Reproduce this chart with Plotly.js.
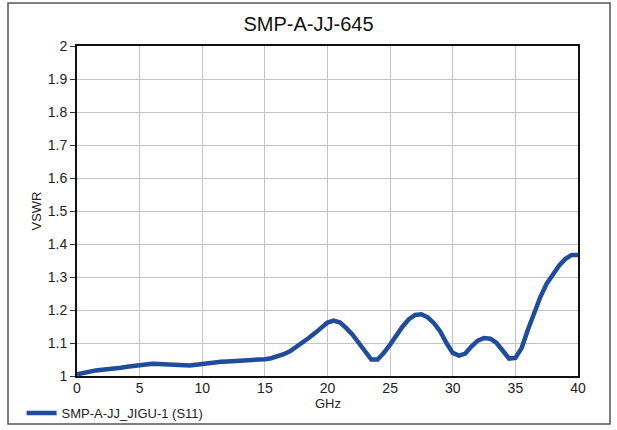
<!DOCTYPE html>
<html>
<head>
<meta charset="utf-8">
<script src="https://cdn.plot.ly/plotly-3.0.1.min.js"></script>
<style>html,body{margin:0;padding:0;background:#fff;}#chart{width:617px;height:430px;}</style>
</head>
<body>
<div id="chart"></div>
<script>
var chartTitle = "SMP-A-JJ-645";
var seriesName = "SMP-A-JJ_JIGU-1 (S11)";
var xTitle = "GHz";
var yTitle = "VSWR";
var freqGHz = [0,0.5,1,1.5,2,2.5,3,3.5,4,4.5,5,5.5,6,6.5,7,7.5,8,8.5,9,9.5,10,10.5,11,11.5,12,12.5,13,13.5,14,14.5,15,15.5,16,16.5,17,17.5,18,18.5,19,19.5,20,20.5,21,21.5,22,22.5,23,23.5,24,24.5,25,25.5,26,26.5,27,27.5,28,28.5,29,29.5,30,30.5,31,31.5,32,32.5,33,33.5,34,34.5,35,35.5,36,36.5,37,37.5,38,38.5,39,39.5,40];
var vswr = [1.005,1.010,1.015,1.017,1.019,1.020,1.022,1.025,1.028,1.031,1.034,1.036,1.037,1.036,1.035,1.033,1.032,1.032,1.032,1.034,1.037,1.040,1.042,1.043,1.044,1.045,1.045,1.045,1.046,1.048,1.051,1.054,1.059,1.066,1.075,1.087,1.100,1.115,1.130,1.148,1.162,1.168,1.162,1.145,1.125,1.100,1.075,1.050,1.050,1.070,1.095,1.125,1.150,1.172,1.185,1.187,1.178,1.160,1.135,1.100,1.070,1.062,1.068,1.090,1.107,1.115,1.113,1.100,1.075,1.053,1.055,1.085,1.140,1.190,1.240,1.280,1.310,1.335,1.355,1.367,1.367];
var xTicks = [0,5,10,15,20,25,30,35,40];
var yTicks = [1,1.1,1.2,1.3,1.4,1.5,1.6,1.7,1.8,1.9,2];

var font = "Liberation Sans, Arial, sans-serif";
var trace = {
  x: freqGHz, y: vswr, type: "scatter", mode: "lines", name: seriesName,
  line: {color: "#1f4c9c", width: 4.5}
};
var layout = {
  width: 617, height: 430,
  margin: {l: 77, r: 39, t: 46, b: 54},
  paper_bgcolor: "#ffffff", plot_bgcolor: "#ffffff",
  font: {family: font, color: "#222", size: 13},
  title: {text: chartTitle, font: {family: font, size: 20, color: "#111"}, x: 0.5, xanchor: "center", xref: "container", y: 0.944, yref: "container", yanchor: "middle"},
  xaxis: {
    range: [0, 40], tickvals: xTicks, ticktext: xTicks.map(String),
    showgrid: true, gridcolor: "#c4c4c4", gridwidth: 1,
    showline: true, linecolor: "#111", linewidth: 2, mirror: true,
    ticks: "", ticklabelstandoff: -2, zeroline: false,
    tickfont: {size: 14, family: font, color: "#222"},
    automargin: false
  },
  yaxis: {
    range: [1, 2], tickvals: yTicks, ticktext: yTicks.map(function(v){return String(v);}),
    showgrid: true, gridcolor: "#c4c4c4", gridwidth: 1,
    showline: true, linecolor: "#111", linewidth: 2, mirror: true,
    ticks: "outside", ticklen: 5, tickcolor: "#333", zeroline: false,
    tickfont: {size: 14, family: font, color: "#222"},
    automargin: false,
    title: {text: yTitle, font: {size: 13, family: font}, standoff: 3}
  },
  annotations: [{
    text: xTitle, xref: "paper", yref: "paper", x: 0.5, y: (376-403)/330,
    xanchor: "center", yanchor: "middle", showarrow: false,
    font: {size: 13, family: font, color: "#222"}
  }],
  showlegend: true,
  legend: {x: 0.035, xref: "container", y: 0.0395, yref: "container", xanchor: "left", yanchor: "middle", orientation: "h", font: {size: 13, family: font}, bgcolor: "rgba(0,0,0,0)"},
  shapes: [{
    type: "rect", xref: "paper", yref: "paper",
    x0: (8-77)/501, x1: (610-77)/501, y0: (376-424)/330, y1: (376-3)/330,
    line: {color: "#555", width: 1.5}, fillcolor: "rgba(0,0,0,0)", layer: "below"
  }]
};
Plotly.newPlot("chart", [trace], layout, {displayModeBar: false, staticPlot: true});
</script>
</body>
</html>
